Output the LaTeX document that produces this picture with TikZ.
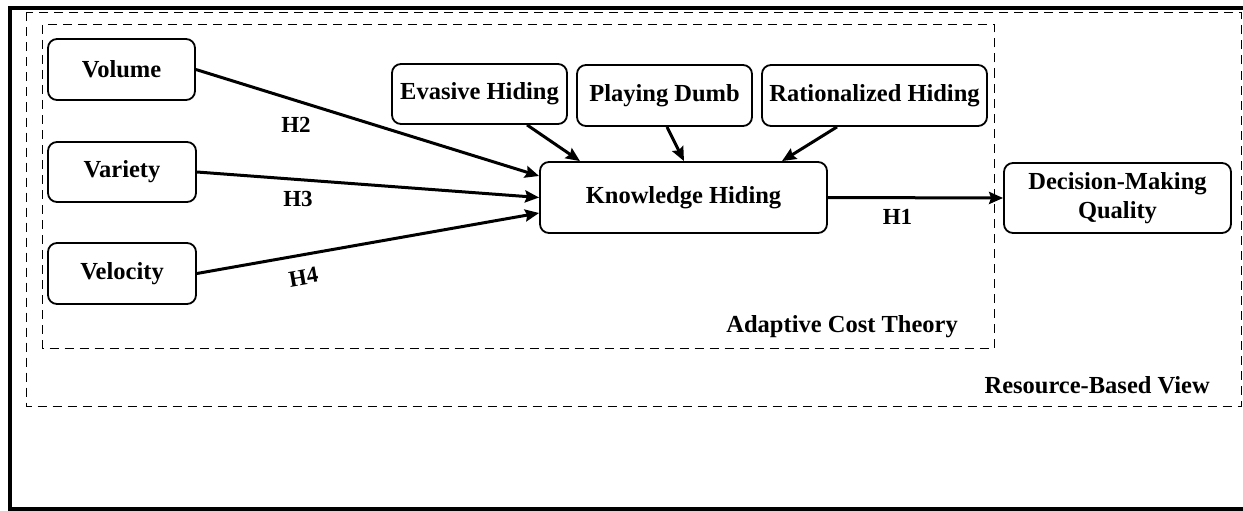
\documentclass[tikz,border=0pt]{standalone}
\usepackage{fontspec}
\setmainfont{Liberation Serif}
\usetikzlibrary{arrows.meta}
\begin{document}
\begin{tikzpicture}[x=1pt,y=-1pt,
  box/.style={draw, line width=1.8pt, rounded corners=9pt, align=center, inner sep=0pt, font=\bfseries\fontsize{24.5}{29}\selectfont},
  conn/.style={line width=3pt, -{Stealth[length=14pt,width=12pt,inset=2pt]}},
  lbl/.style={font=\bfseries\fontsize{23}{28}\selectfont, inner sep=0pt},
  ttl/.style={font=\bfseries\fontsize{24.5}{29}\selectfont, inner sep=0pt},
  frm/.style={dash pattern=on 9pt off 6pt, line width=1pt}]
\useasboundingbox (0,0) rectangle (1243,511);
\fill[white] (0,0) rectangle (1243,511);
\draw[line width=4pt] (1245,508.5) -- (9.5,508.5) -- (9.5,8.5) -- (1245,8.5);
% theory frames
\draw[frm] (26,12.5) rectangle (1241,406);
\draw[frm] (42.5,25) rectangle (994,348);
\node[ttl, anchor=east] (act) at (958,327) {Adaptive Cost Theory};
\node[ttl, anchor=east] (rbv) at (1210,385) {Resource-Based View};
% nodes
\node[box, minimum width=147pt, minimum height=61pt] (vol) at (121.5,69.5) {Volume};
\node[box, minimum width=148pt, minimum height=60pt] (var) at (122,172) {Variety};
\node[box, minimum width=148pt, minimum height=61pt] (vel) at (122,273.5) {Velocity};
\node[box, minimum width=175pt, minimum height=60pt] (eva) at (479.5,94) {Evasive Hiding};
\node[box, minimum width=175pt, minimum height=61pt] (pd) at (664.5,95.5) {Playing Dumb};
\node[box, minimum width=225pt, minimum height=61pt] (rat) at (874.5,95.5) {Rationalized Hiding};
\node[box, minimum width=287pt, minimum height=71pt] (kh) at (683.5,197.5) {Knowledge Hiding};
\node[box, minimum width=227pt, minimum height=70pt] (dmq) at (1117.5,198) {Decision-Making\\Quality};
% connectors
\draw[conn] (vol.east) -- ([yshift=21.5pt]kh.west);
\draw[conn] (var.east) -- (kh.west);
\draw[conn] (vel.east) -- ([yshift=-15.5pt]kh.west);
\draw[conn] ([xshift=47.5pt]eva.south) -- ([xshift=-103.5pt]kh.north);
\draw[conn] ([xshift=2.5pt]pd.south) -- ([xshift=0.5pt]kh.north);
\draw[conn] ([xshift=-37.5pt]rat.south) -- ([xshift=98.5pt]kh.north);
\draw[conn] (kh.east) -- (dmq.west);
% labels
\node[lbl] (h2) at (296,125) {H2};
\node[lbl] (h3) at (298,199) {H3};
\node[lbl, rotate=10] (h4) at (303.5,277) {H4};
\node[lbl] (h1) at (897.5,217) {H1};
\end{tikzpicture}
\end{document}
